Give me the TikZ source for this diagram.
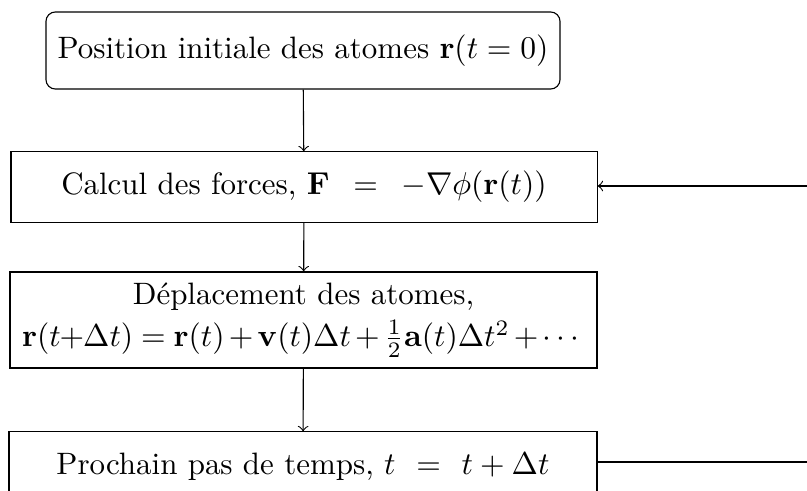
\documentclass[tikz,border=0pt]{standalone}
\usepackage{amsmath}
\begin{document}
\begin{tikzpicture}[x=0.3165pt,y=-0.3165pt,line width=0.35pt,
  box/.style={draw, inner sep=0pt, align=center, font=\fontsize{9.8}{12.4}\selectfont},
  arr/.style={->}]
\useasboundingbox (0,0) rectangle (807,491);
\clip (0,0) rectangle (807,491);
\node[box, rounded corners=3pt, minimum width=162.7pt, minimum height=24.4pt] (b1) at (303,50.5) {Position initiale des atomes $\mathbf{r}(t=0)$};
\node[box, minimum width=185.5pt, minimum height=22.2pt] (b2) at (304,187) {Calcul des forces, $\mathbf{F}\hspace{4.7pt}=\hspace{4.7pt}-\nabla\phi(\mathbf{r}(t))$};
\node[box, minimum width=185.8pt, minimum height=30.4pt] (b3) at (303.5,320) {D\'eplacement des atomes,\\[1pt] $\medmuskip=2.4mu\thickmuskip=4.5mu\mathbf{r}(t\!+\!\Delta t)=\mathbf{r}(t)+\mathbf{v}(t)\Delta t+\frac{1}{2}\mathbf{a}(t)\Delta t^2+\cdots$};
\node[box, minimum width=186.1pt, minimum height=22.2pt] (b4) at (303,467) {Prochain pas de temps, $t\hspace{3.8pt}=\hspace{3.8pt}t+\Delta t$};
\coordinate (c1) at (840,462);
\coordinate (c2) at (840,186);
\draw[arr] (b1) -- (b2);
\draw[arr] (b2) -- (b3);
\draw[arr] (b3) -- (b4);
\draw[arr] (b4.east |- c1) -- (c1) -- (c2) -- (b2.east |- c2);
\end{tikzpicture}
\end{document}
